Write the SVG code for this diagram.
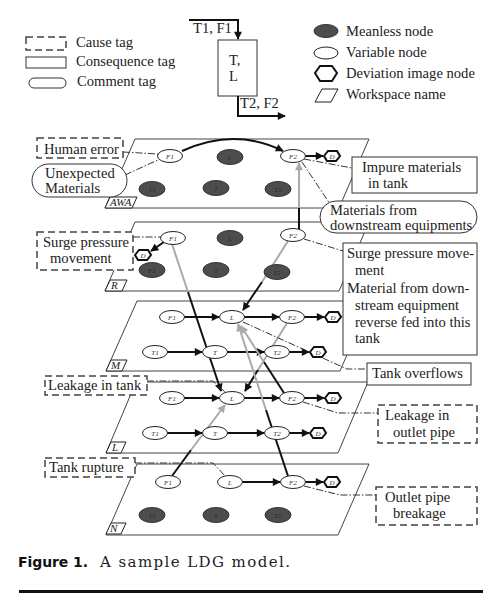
<svg xmlns="http://www.w3.org/2000/svg" width="502" height="602" viewBox="0 0 502 602">
<style>
.lay{fill:none;stroke:#444;stroke-width:1}
.var{fill:#fff;stroke:#222;stroke-width:1}
.mean{fill:#4d4d4d;stroke:#333;stroke-width:1}
.hex{fill:#fff;stroke:#111;stroke-width:2}
.nl{font-family:"Liberation Serif",serif;font-style:italic;font-size:7px;text-anchor:middle;fill:#333}
.nm{font-family:"Liberation Serif",serif;font-style:italic;font-size:7px;text-anchor:middle;fill:#2a2a2a}
.t{font-family:"Liberation Serif",serif;font-size:14.6px;fill:#222}
.ws{font-family:"Liberation Serif",serif;font-style:italic;font-size:11px;fill:#222}
.arr{stroke:#111;stroke-width:2;fill:none;marker-end:url(#ah)}
.blk{stroke:#111;stroke-width:2;fill:none}
.gry{stroke:#aaa;stroke-width:2;fill:none}
.garr{stroke:#aaa;stroke-width:2;fill:none;marker-end:url(#ahg)}
.dd{stroke:#333;stroke-width:1;stroke-dasharray:7 2 1.5 2;fill:none}
.cause{fill:#fff;stroke:#444;stroke-width:1.5;stroke-dasharray:7 4}
.cons{fill:#fff;stroke:#333;stroke-width:1}
</style>
<defs>
<marker id="ah" viewBox="0 0 10 10" refX="9" refY="5" markerWidth="4.5" markerHeight="4" orient="auto" markerUnits="strokeWidth"><path d="M0,0 L10,5 L0,10 z" fill="#111"/></marker>
<marker id="ahg" viewBox="0 0 10 10" refX="9" refY="5" markerWidth="4.5" markerHeight="4" orient="auto" markerUnits="strokeWidth"><path d="M0,0 L10,5 L0,10 z" fill="#aaa"/></marker>
</defs>
<rect width="502" height="602" fill="#fff"/>

<!-- Legend -->
<g id="legend-left">
<rect class="cause" x="26" y="37" width="40" height="13" stroke-width="1.2"/>
<text class="t" x="76" y="47">Cause tag</text>
<rect class="cons" x="26" y="57" width="40" height="11"/>
<text class="t" x="76" y="66">Consequence tag</text>
<rect class="cons" x="29" y="78" width="37" height="10" rx="5"/>
<text class="t" x="77" y="86">Comment tag</text>
</g>
<g id="legend-right">
<ellipse class="mean" cx="326" cy="31" rx="12" ry="6.5"/>
<text class="t" x="346" y="36">Meanless node</text>
<ellipse class="var" cx="326" cy="53" rx="12" ry="6"/>
<text class="t" x="346" y="57">Variable node</text>
<polygon class="hex" points="315,73 320,66 332,66 337,73 332,81 320,81"/>
<text class="t" x="346" y="78">Deviation image node</text>
<polygon points="322,89 338,89 331,102 315,102" fill="#fff" stroke="#222" stroke-width="1"/>
<text class="t" x="346" y="99">Workspace name</text>
</g>
<g id="top-box">
<rect class="cons" x="218" y="40" width="39" height="56"/>
<text class="t" x="229" y="65" font-size="13">T,</text>
<text class="t" x="229" y="81" font-size="13">L</text>
<path class="arr" d="M189,20 H238 V39"/>
<text class="t" x="193" y="33" font-size="12">T1, F1</text>
<path class="arr" d="M238,96 V116 H285"/>
<text class="t" x="240" y="108" font-size="12">T2, F2</text>
</g>

<!-- Layers -->
<g id="layer-AWA">
<polygon class="lay" points="135,139 369,139 339,208 105,208"/>
<polygon points="110,197 137,197 132,208 105,208" fill="#fff" stroke="#222"/>
<text class="ws" x="110" y="206" font-size="10">AWA</text>
</g>
<g id="layer-R">
<polygon class="lay" points="135,222 369,222 339,291 105,291"/>
<polygon points="110,280 127,280 122,291 105,291" fill="#fff" stroke="#222"/>
<text class="ws" x="111" y="289">R</text>
</g>
<g id="layer-M">
<polygon class="lay" points="137,301 370,301 340,371 106,371"/>
<polygon points="111,360 127,360 122,371 106,371" fill="#fff" stroke="#222"/>
<text class="ws" x="111" y="369">M</text>
</g>
<g id="layer-L">
<polygon class="lay" points="136,382 368,382 338,453 106,453"/>
<polygon points="111,442 126,442 121,453 106,453" fill="#fff" stroke="#222"/>
<text class="ws" x="112" y="451">L</text>
</g>
<g id="layer-N">
<polygon class="lay" points="137,464 369,464 338,535 106,535"/>
<polygon points="111,523 126,523 121,534 106,534" fill="#fff" stroke="#222"/>
<text class="ws" x="110" y="532">N</text>
</g>

<!-- Connectors -->
<g id="connectors">
<path class="arr" d="M182,151 Q235,127 283,151"/>
<line class="arr" x1="305" y1="156" x2="323" y2="156"/>
<line class="arr" x1="164" y1="242" x2="151" y2="251"/>
<line class="arr" x1="184" y1="317" x2="219" y2="317"/>
<line class="arr" x1="244" y1="317" x2="279" y2="317"/>
<line class="arr" x1="304" y1="317" x2="324" y2="317"/>
<line class="arr" x1="167" y1="352" x2="202" y2="352"/>
<line class="arr" x1="227" y1="352" x2="264" y2="352"/>
<line class="arr" x1="289" y1="352" x2="309" y2="352"/>
<line class="arr" x1="184" y1="398" x2="219" y2="398"/>
<line class="arr" x1="244" y1="398" x2="279" y2="398"/>
<line class="arr" x1="304" y1="398" x2="324" y2="398"/>
<line class="arr" x1="167" y1="433" x2="202" y2="433"/>
<line class="arr" x1="227" y1="433" x2="264" y2="433"/>
<line class="arr" x1="289" y1="433" x2="309" y2="433"/>
<line class="arr" x1="242" y1="482" x2="280" y2="482"/>
<line class="arr" x1="305" y1="482" x2="323" y2="482"/>
<!-- cross-layer -->
<line class="gry" x1="172" y1="244" x2="188" y2="292"/>
<line class="arr" x1="188" y1="292" x2="221" y2="391"/>
<line class="gry" x1="288" y1="241" x2="262" y2="282"/>
<line class="arr" x1="262" y1="282" x2="243" y2="310"/>
<line class="blk" x1="299" y1="229" x2="299" y2="208"/>
<line class="garr" x1="299" y1="208" x2="299" y2="163"/>
<line class="gry" x1="287" y1="323" x2="258" y2="370"/>
<line class="arr" x1="258" y1="370" x2="245" y2="391"/>
<line class="blk" x1="172" y1="476" x2="191" y2="450"/>
<line class="garr" x1="191" y1="450" x2="225" y2="405"/>
<line class="blk" x1="288" y1="476" x2="266" y2="410"/>
<line class="garr" x1="266" y1="410" x2="238" y2="324"/>
<line class="blk" x1="284" y1="393" x2="264" y2="362"/>
<line class="garr" x1="264" y1="362" x2="241" y2="326"/>
<!-- leaders -->
<polyline class="dd" points="123,152 158,154"/>
<polyline class="dd" points="125,175 160,159"/>
<polyline class="dd" points="304,159 352,168"/>
<polyline class="dd" points="302,162 330,204"/>
<polyline class="dd" points="133,237 161,237"/>
<polyline class="dd" points="304,239 343,251"/>
<polyline class="dd" points="243,322 347,369 367,369"/>
<polyline class="dd" points="147,381 213,381 225,392"/>
<polyline class="dd" points="303,402 338,413 378,413"/>
<polyline class="dd" points="135,463 213,463 226,477"/>
<polyline class="dd" points="304,486 340,495 376,495"/>
</g>

<!-- Nodes AWA -->
<g id="AWA-F1"><ellipse class="var" cx="170" cy="156" rx="12.5" ry="6.5"/><text class="nl" x="170" y="158.5">F1</text></g>
<g id="AWA-L"><ellipse class="mean" cx="230" cy="157" rx="13" ry="7.5"/><text class="nm" x="230" y="159.5">L</text></g>
<g id="AWA-F2"><ellipse class="var" cx="293" cy="156" rx="12.5" ry="6.5"/><text class="nl" x="293" y="158.5">F2</text></g>
<g id="AWA-D"><polygon class="hex" points="324,156 328,151 337,151 340,156 336,161 327,161"/><text class="nl" x="332" y="158.5">D</text></g>
<g id="AWA-T1"><ellipse class="mean" cx="152" cy="189" rx="13" ry="7.5"/><text class="nm" x="152" y="191.5">T1</text></g>
<g id="AWA-T"><ellipse class="mean" cx="216" cy="188" rx="13" ry="7.5"/><text class="nm" x="216" y="190.5">T</text></g>
<g id="AWA-T2"><ellipse class="mean" cx="278" cy="189" rx="13" ry="7.5"/><text class="nm" x="278" y="191.5">T2</text></g>
<!-- Nodes R -->
<g id="R-F1"><ellipse class="var" cx="173" cy="238" rx="12.5" ry="6.5"/><text class="nl" x="173" y="240.5">F1</text></g>
<g id="R-L"><ellipse class="mean" cx="230" cy="238" rx="13" ry="7.5"/><text class="nm" x="230" y="240.5">L</text></g>
<g id="R-F2"><ellipse class="var" cx="293" cy="235" rx="12.5" ry="6.5"/><text class="nl" x="293" y="237.5">F2</text></g>
<g id="R-D"><polygon class="hex" points="135,255 139,250 148,250 151,255 147,260 138,260"/><text class="nl" x="143" y="257.5">D</text></g>
<g id="R-F1b"><ellipse class="mean" cx="152" cy="270" rx="13" ry="7.5"/><text class="nm" x="152" y="272.5">F1</text></g>
<g id="R-T"><ellipse class="mean" cx="216" cy="270" rx="13" ry="7.5"/><text class="nm" x="216" y="272.5">T</text></g>
<g id="R-T2"><ellipse class="mean" cx="277" cy="272" rx="13" ry="7.5"/><text class="nm" x="277" y="274.5">T2</text></g>
<!-- Nodes M -->
<g id="M-F1"><ellipse class="var" cx="172" cy="317" rx="12.5" ry="6.5"/><text class="nl" x="172" y="319.5">F1</text></g>
<g id="M-L"><ellipse class="var" cx="232" cy="317" rx="12.5" ry="6.5"/><text class="nl" x="232" y="319.5">L</text></g>
<g id="M-F2"><ellipse class="var" cx="292" cy="317" rx="12.5" ry="6.5"/><text class="nl" x="292" y="319.5">F2</text></g>
<g id="M-D1"><polygon class="hex" points="325,317 329,312 338,312 341,317 337,322 328,322"/><text class="nl" x="333" y="319.5">D</text></g>
<g id="M-T1"><ellipse class="var" cx="155" cy="352" rx="12.5" ry="6.5"/><text class="nl" x="155" y="354.5">T1</text></g>
<g id="M-T"><ellipse class="var" cx="215" cy="352" rx="12.5" ry="6.5"/><text class="nl" x="215" y="354.5">T</text></g>
<g id="M-T2"><ellipse class="var" cx="277" cy="352" rx="12.5" ry="6.5"/><text class="nl" x="277" y="354.5">T2</text></g>
<g id="M-D2"><polygon class="hex" points="310,352 314,347 323,347 326,352 322,357 313,357"/><text class="nl" x="318" y="354.5">D</text></g>
<!-- Nodes L -->
<g id="L-F1"><ellipse class="var" cx="172" cy="398" rx="12.5" ry="6.5"/><text class="nl" x="172" y="400.5">F1</text></g>
<g id="L-L"><ellipse class="var" cx="232" cy="398" rx="12.5" ry="6.5"/><text class="nl" x="232" y="400.5">L</text></g>
<g id="L-F2"><ellipse class="var" cx="292" cy="398" rx="12.5" ry="6.5"/><text class="nl" x="292" y="400.5">F2</text></g>
<g id="L-D1"><polygon class="hex" points="325,398 329,393 338,393 341,398 337,403 328,403"/><text class="nl" x="333" y="400.5">D</text></g>
<g id="L-T1"><ellipse class="var" cx="155" cy="433" rx="12.5" ry="6.5"/><text class="nl" x="155" y="435.5">T1</text></g>
<g id="L-T"><ellipse class="var" cx="215" cy="433" rx="12.5" ry="6.5"/><text class="nl" x="215" y="435.5">T</text></g>
<g id="L-T2"><ellipse class="var" cx="277" cy="433" rx="12.5" ry="6.5"/><text class="nl" x="277" y="435.5">T2</text></g>
<g id="L-D2"><polygon class="hex" points="310,433 314,428 323,428 326,433 322,438 313,438"/><text class="nl" x="318" y="435.5">D</text></g>
<!-- Nodes N -->
<g id="N-F1"><ellipse class="var" cx="168" cy="482" rx="12.5" ry="6.5"/><text class="nl" x="168" y="484.5">F1</text></g>
<g id="N-L"><ellipse class="var" cx="230" cy="482" rx="12.5" ry="6.5"/><text class="nl" x="230" y="484.5">L</text></g>
<g id="N-F2"><ellipse class="var" cx="293" cy="482" rx="12.5" ry="6.5"/><text class="nl" x="293" y="484.5">F2</text></g>
<g id="N-D"><polygon class="hex" points="324,482 328,477 337,477 340,482 336,487 327,487"/><text class="nl" x="332" y="484.5">D</text></g>
<g id="N-T1"><ellipse class="mean" cx="152" cy="515" rx="13" ry="7.5"/><text class="nm" x="152" y="517.5">T1</text></g>
<g id="N-T"><ellipse class="mean" cx="216" cy="515" rx="13" ry="7.5"/><text class="nm" x="216" y="517.5">T</text></g>
<g id="N-T2"><ellipse class="mean" cx="278" cy="515" rx="13" ry="7.5"/><text class="nm" x="278" y="517.5">T2</text></g>

<!-- Tags -->
<g id="tag-human-error"><rect class="cause" x="37" y="138" width="86" height="20"/><text class="t" x="44" y="154">Human error</text></g>
<g id="tag-unexpected"><rect class="cons" x="32" y="164" width="95" height="33" rx="16.5"/><text class="t" x="45" y="178">Unexpected</text><text class="t" x="45" y="193">Materials</text></g>
<g id="tag-impure"><rect class="cons" x="352" y="157" width="125" height="36"/><text class="t" x="362" y="172">Impure materials</text><text class="t" x="368" y="188">in tank</text></g>
<g id="tag-materials"><rect class="cons" x="320" y="201" width="157" height="32" rx="16"/><text class="t" x="330" y="215">Materials from</text><text class="t" x="330" y="230">downstream equipments</text></g>
<g id="tag-surge-cause"><rect class="cause" x="37" y="232" width="96" height="38"/><text class="t" x="43" y="247">Surge pressure</text><text class="t" x="50" y="263">movement</text></g>
<g id="tag-surge-cons"><rect class="cons" x="343" y="243" width="134" height="112"/>
<text class="t" x="347" y="258">Surge pressure move-</text>
<text class="t" x="355" y="275">ment</text>
<text class="t" x="347" y="293">Material from down-</text>
<text class="t" x="355" y="310">stream equipment</text>
<text class="t" x="355" y="327">reverse fed into this</text>
<text class="t" x="355" y="343">tank</text></g>
<g id="tag-overflow"><rect class="cons" x="367" y="363" width="104" height="22"/><text class="t" x="372" y="378">Tank overflows</text></g>
<g id="tag-leak-tank"><rect class="cause" x="45" y="376" width="102" height="19"/><text class="t" x="48" y="390">Leakage in tank</text></g>
<g id="tag-leak-pipe"><rect class="cause" x="378" y="405" width="99" height="38"/><text class="t" x="385" y="420">Leakage in</text><text class="t" x="393" y="437">outlet pipe</text></g>
<g id="tag-rupture"><rect class="cause" x="45" y="458" width="90" height="19"/><text class="t" x="49" y="472">Tank rupture</text></g>
<g id="tag-breakage"><rect class="cause" x="376" y="487" width="101" height="38"/><text class="t" x="385" y="502">Outlet pipe</text><text class="t" x="393" y="518">breakage</text></g>

<!-- Caption -->
<g id="caption">
<text x="18" y="567" font-family="DejaVu Sans, sans-serif" font-weight="bold" font-size="14" fill="#111" textLength="70">Figure 1.</text>
<text x="100" y="567" font-family="DejaVu Serif, serif" font-size="15" fill="#222" textLength="190">A sample LDG model.</text>
<rect x="19" y="590" width="464" height="3" fill="#111"/>
</g>
</svg>
